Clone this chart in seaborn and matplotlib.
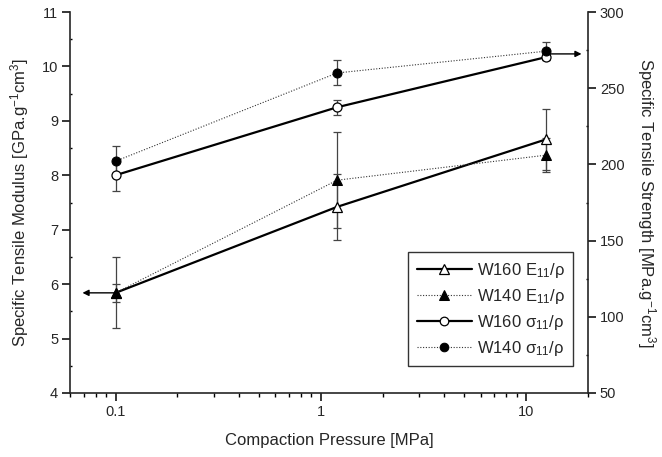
import matplotlib
matplotlib.use("Agg")
import matplotlib.pyplot as plt
from matplotlib.ticker import FixedLocator, MultipleLocator, NullFormatter, LogLocator
import seaborn as sns

# --- DATA ---
pressure = [0.1, 1.2, 12.5]

# left axis: specific tensile modulus [GPa.g^-1cm^3]
w160_mod = [5.84, 7.42, 8.66]
w160_mod_err = [0.17, 0.60, 0.56]
w140_mod = [5.84, 7.91, 8.37]
w140_mod_err = [0.65, 0.88, 0.31]

# right axis: specific tensile strength [MPa.g^-1cm^3]
w160_str = [192.9, 237.5, 270.4]
w160_str_err = [10.4, 4.8, 1.8]
w140_str = [202.1, 260.0, 274.3]
w140_str_err = [10.0, 8.2, 5.7]

x_ticks = [0.1, 1, 10]
x_tick_labels = ["0.1", "1", "10"]

sns.set_style("ticks")
plt.rcParams['font.family'] = ['Liberation Sans', 'DejaVu Sans']
plt.rcParams['mathtext.fontset'] = 'custom'
plt.rcParams['mathtext.rm'] = 'Liberation Sans'
plt.rcParams['mathtext.it'] = 'Liberation Sans'
plt.rcParams['axes.linewidth'] = 1.2

fig = plt.figure(figsize=(6.62, 4.57), dpi=100)
ax = fig.add_axes([70 / 662, 1 - 393 / 457, 518 / 662, 381 / 457])
ax.set_xscale('log')
ax2 = ax.twinx()

err_kw = dict(fmt='none', ecolor='#444444', elinewidth=0.9, capsize=3.2, capthick=0.9)

# modulus (left axis)
ax.errorbar(pressure, w160_mod, yerr=w160_mod_err, **err_kw)
ax.errorbar(pressure, w140_mod, yerr=w140_mod_err, **err_kw)
sns.lineplot(x=pressure, y=w160_mod, ax=ax, color='k', lw=1.6, marker='^', markersize=7.5,
             markerfacecolor='white', markeredgecolor='k', markeredgewidth=0.9,
             label=r'W160 E$_{\mathregular{11}}$/ρ', legend=False)
sns.lineplot(x=pressure, y=w140_mod, ax=ax, color='#333333', lw=0.8, ls=(0, (1, 1.5)),
             marker='^', markersize=7.5, markerfacecolor='k', markeredgecolor='k',
             label=r'W140 E$_{\mathregular{11}}$/ρ', legend=False)

# strength (right axis)
ax2.errorbar(pressure, w160_str, yerr=w160_str_err, **err_kw)
ax2.errorbar(pressure, w140_str, yerr=w140_str_err, **err_kw)
sns.lineplot(x=pressure, y=w160_str, ax=ax2, color='k', lw=1.6, marker='o', markersize=6.5,
             markerfacecolor='white', markeredgecolor='k', markeredgewidth=0.9,
             label=r'W160 σ$_{\mathregular{11}}$/ρ', legend=False)
sns.lineplot(x=pressure, y=w140_str, ax=ax2, color='#333333', lw=0.8, ls=(0, (1, 1.5)),
             marker='o', markersize=6.5, markerfacecolor='k', markeredgecolor='k',
             label=r'W140 σ$_{\mathregular{11}}$/ρ', legend=False)

# arrows pointing to the matching axis
arrow = dict(arrowstyle='-|>', color='k', lw=1.0, mutation_scale=9, shrinkA=0, shrinkB=0)
ax.annotate('', xy=(0.069, w160_mod[0]), xytext=(0.1, w160_mod[0]), arrowprops=arrow)
ax2.annotate('', xy=(18.6, 272.5), xytext=(12.5, 272.5), arrowprops=arrow)

# axes
ax.set_xlim(0.06, 20)
ax.set_ylim(4, 11)
ax2.set_ylim(50, 300)
ax.xaxis.set_major_locator(FixedLocator(x_ticks))
ax.set_xticklabels(x_tick_labels)
ax.xaxis.set_minor_locator(LogLocator(base=10, subs=range(2, 10)))
ax.xaxis.set_minor_formatter(NullFormatter())
ax.yaxis.set_major_locator(MultipleLocator(1))
ax.yaxis.set_minor_locator(MultipleLocator(0.5))
ax2.yaxis.set_major_locator(MultipleLocator(50))
ax2.yaxis.set_minor_locator(MultipleLocator(25))

for a in (ax, ax2):
    a.spines['top'].set_visible(False)
    a.tick_params(which='major', direction='out', length=5.5, width=1.1, labelsize=10.5,
                  color='k', pad=3)
ax.tick_params(axis='x', which='minor', direction='out', length=3, width=1.0, color='k')
ax.tick_params(axis='y', which='minor', direction='in', length=1.5, width=1.0, color='k')
ax2.tick_params(axis='y', which='minor', direction='in', length=1.5, width=1.0, color='k')
ax.spines['right'].set_visible(False)
ax2.spines['left'].set_visible(False)
ax2.spines['bottom'].set_visible(False)

ax.set_xlabel('Compaction Pressure [MPa]', fontsize=12, labelpad=10)
ax.set_ylabel(r'Specific Tensile Modulus [GPa.g$^{\mathregular{-1}}$cm$^{\mathregular{3}}$]',
              fontsize=12, labelpad=8)
ax2.set_ylabel(r'Specific Tensile Strength [MPa.g$^{\mathregular{-1}}$cm$^{\mathregular{3}}$]',
               fontsize=12, rotation=270, labelpad=24)

h1, l1 = ax.get_legend_handles_labels()
h2, l2 = ax2.get_legend_handles_labels()
leg = ax2.legend(h1 + h2, l1 + l2, loc='lower right', bbox_to_anchor=(0.971, 0.071),
                 borderaxespad=0, fontsize=12, frameon=True, fancybox=False, edgecolor='k',
                 markerscale=0.95, handlelength=3.3, handletextpad=0.3, borderpad=0.5,
                 labelspacing=0.42)
leg.get_frame().set_linewidth(1.0)

fig.savefig('out.png', dpi=100)
